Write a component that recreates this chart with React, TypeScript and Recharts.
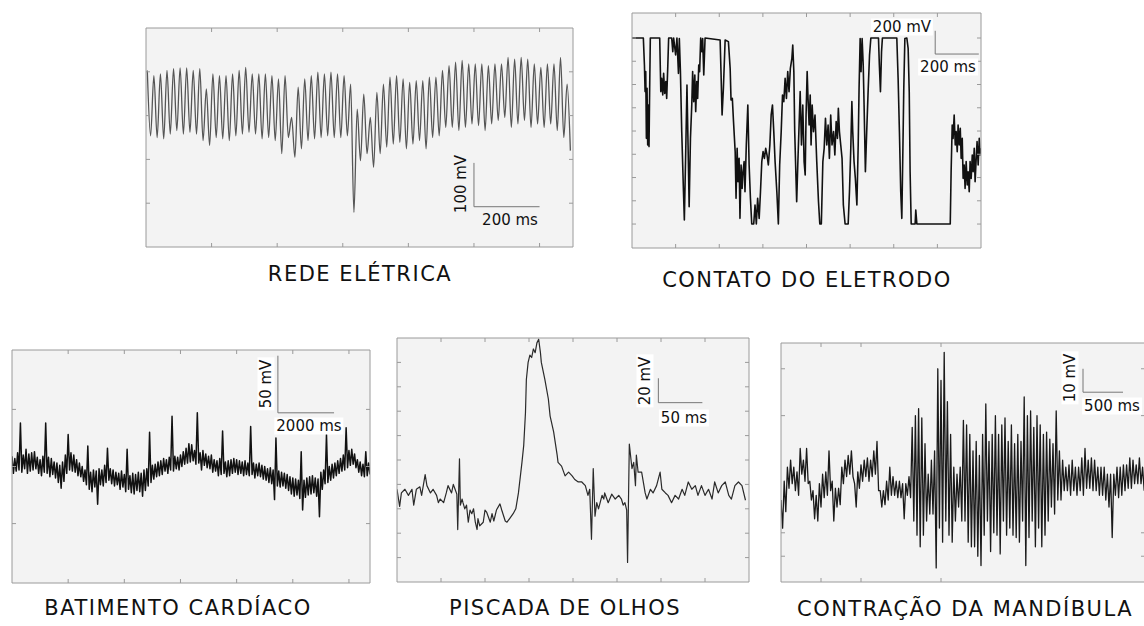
import React from "react";
import { LineChart, Line, XAxis, YAxis, ReferenceLine } from "recharts";

// ---------- REDE ELÉTRICA (mV, one peak + one trough per 20 ms cycle) ----------
const mainsPeaks = [
  103, 91, 95, 103, 107, 109, 109, 103, 107, 61,
  95, 91, 91, 95, 103, 110, 95, 95, 95, 91,
  84, 91, -4, 65, 84, 91, 99, 95, 99, 95,
  91, 72, 15, 49, -4, 53, 72, 88, 91, 84,
  76, 80, 80, 88, 88, 103, 114, 122, 126, 118,
  118, 118, 114, 118, 118, 133, 129, 133, 129, 118,
  110, 118, 118, 133, 72,
];
const mainsTroughs = [
  -46, -50, -53, -42, -34, -42, -38, -42, -57, -68,
  -50, -53, -57, -46, -42, -38, -42, -53, -50, -57,
  -87, -50, -95, -76, -57, -53, -50, -46, -50, -50,
  -46, -221, -103, -87, -118, -87, -72, -65, -61, -76,
  -65, -57, -76, -50, -46, -27, -27, -34, -27, -19,
  -23, -34, -19, -11, -4, -27, -19, -11, -27, -19,
  -27, -19, -34, -50, -80,
];
const MAINS_PERIOD = 20;

// ---------- CONTATO DO ELETRODO ([ms, mV]) ----------
const contactSamples: [number, number][] = [
  [0, 800], [52, 800], [57, 568], [60, 339], [63, 511], [66, -63], [69, 367], [72, -120], [75, 224], [78, -134], [81, 367], [84, 800],
  [127, 800], [132, 339], [136, 453], [141, 310], [145, 496], [150, 324], [155, 425], [159, 281], [164, 554], [168, 800],
  [182, 800], [187, 683], [191, 800], [200, 654], [206, 800], [213, 496], [217, 795], [222, 511], [228, -5], [236, -522], [240, -765],
  [246, -206], [252, 396], [257, -120], [262, -651], [268, -63], [274, 224], [278, 511], [283, 253], [288, 482], [292, 167], [297, 425],
  [301, 281], [306, 568], [310, 511], [315, 800], [320, 683], [324, 795], [329, 482], [335, 800],
  [404, 783], [408, 511], [413, 138], [419, 367], [427, 783], [442, 769], [450, 539], [454, 267], [460, 281], [465, 95], [473, -177],
  [477, -579], [482, -149], [486, -435], [491, -235], [495, -751], [500, -292], [505, -493], [509, -350], [514, -263], [518, -522],
  [524, -120], [531, 224], [537, -292], [543, -579], [549, -800], [558, -800], [564, -636], [570, -800], [576, -579], [583, -751],
  [589, -522], [595, -263], [601, -177], [607, -235], [613, -149], [619, -206], [625, -292], [632, -120], [638, 138], [644, 224],
  [650, -5], [656, -263], [664, -522], [671, -800], [677, -292], [684, -5], [690, 310], [696, 253], [702, 453], [708, 281], [714, 511],
  [720, 339], [726, 539], [733, 625], [737, 740], [742, 511], [746, -5], [751, -350], [755, -608], [760, -292], [766, 52],
  [771, 339], [777, -120], [783, 224], [789, -263], [794, -378], [798, 138], [803, 511], [807, 281], [812, 52], [817, 310], [821, -120],
  [826, 224], [832, -5], [839, 138], [847, -263], [855, -608], [861, -800], [868, -800], [875, -263], [881, -149], [887, 109], [893, -120],
  [899, 52], [905, -235], [911, 138], [917, -120], [924, -5], [930, -206], [936, 81], [942, -63], [946, 195], [951, -5], [957, -120],
  [963, -235], [969, -636], [977, -800], [991, -800], [997, -522], [1003, -149], [1008, 253], [1012, -5], [1018, -263], [1024, -407],
  [1031, -636], [1037, -120], [1041, 367], [1046, 795], [1050, 511], [1055, 795], [1060, 568], [1064, 224], [1070, -350], [1076, -5],
  [1083, 367], [1089, 654], [1095, 800], [1130, 800], [1134, 568], [1139, 339], [1144, 683], [1148, 800],
  [1214, 800], [1220, 453], [1226, -5], [1232, -522], [1237, -751], [1242, -149], [1246, 367], [1251, 795], [1260, 800], [1266, 711],
  [1271, 339], [1275, -350], [1280, -800], [1298, -800], [1301, -679], [1306, -800],
  [1459, -800], [1463, -350], [1468, 52], [1472, -63], [1477, 138], [1482, -120], [1486, -5], [1491, -177], [1495, 52], [1500, -120],
  [1505, 23], [1509, -235], [1514, -63], [1518, -407], [1523, -292], [1527, -493], [1532, -263], [1537, -464], [1541, -350],
  [1546, -522], [1550, -263], [1555, -407], [1560, -206], [1564, -350], [1569, -149], [1573, -435], [1578, -235], [1582, -91],
  [1587, -292], [1592, -63], [1596, -206], [1599, -149],
];

// ---------- BATIMENTO CARDÍACO (mV, upper / lower edge every 100 ms) ----------
const HEART_STEP = 100;
const heartHigh = [
  9, 7, 12, 38, 10, 15, 11, 12, 13, 8,
  6, 9, 38, 8, 7, 4, 3, 1, 4, 10,
  28, 12, 10, 6, 3, 0, -3, 18, -5, -3,
  -4, -2, -3, 1, 16, -2, -3, -5, -6, -4,
  -7, 15, -8, -6, -7, -5, -6, -3, -2, 30,
  1, 2, 4, 5, 7, 6, 8, 44, 9, 8,
  10, 13, 16, 20, 19, 14, 47, 12, 14, 11,
  9, 10, 6, 5, 7, 31, 4, 5, 6, 7,
  6, 5, 4, 5, 3, 35, 3, 2, 3, 1,
  0, -2, -1, -3, 25, -4, -5, -6, -7, -9,
  -10, -11, -12, 13, -12, -10, -9, -8, -10, -11,
  -5, -3, 28, 0, 2, 3, 5, 7, 10, 34,
  14, 15, 11, 6, 4, 2, 13, 3,
];
const heartLow = [
  -6, -4, -3, -5, -2, -6, -4, -3, -2, -6,
  -8, -5, -6, -9, -7, -10, -14, -19, -13, -6,
  -3, -4, -5, -8, -9, -13, -16, -20, -22, -18,
  -33, -16, -17, -14, -12, -15, -17, -16, -20, -18,
  -22, -20, -23, -24, -21, -22, -26, -21, -17, -14,
  -11, -9, -8, -7, -4, -6, -3, -4, -2, -3,
  0, 2, 3, 4, 5, 2, 3, -3, 1, -1,
  -2, -5, -4, -8, -7, -6, -9, -8, -6, -5,
  -7, -6, -8, -7, -8, -7, -10, -8, -9, -11,
  -12, -14, -15, -29, -17, -18, -17, -19, -21, -24,
  -26, -25, -28, -38, -27, -25, -24, -23, -26, -44,
  -20, -15, -14, -12, -10, -8, -6, -4, -3, -1,
  1, 2, -1, -5, -8, -9, -8, -7,
];

// ---------- PISCADA DE OLHOS ([ms, mV]) ----------
const blinkSamples: [number, number][] = [
  [0, -24], [3, -38], [5, -27], [9, -24], [13, -29], [17, -24], [19, -37], [22, -24], [26, -22], [28, -29], [32, -12], [34, -21],
  [38, -27], [41, -24], [45, -29], [47, -35], [49, -32], [53, -35], [56, -27], [58, -21], [62, -27], [64, -20], [66, -24], [68, -28],
  [69, -57], [71, 1], [72, -37], [74, -32], [75, -35], [77, -40], [79, -37], [81, -51], [83, -41], [85, -44], [87, -40], [89, -51],
  [91, -57], [92, -48], [94, -54], [98, -51], [100, -41], [102, -43], [106, -51], [108, -44], [110, -50], [113, -41], [117, -36],
  [119, -41], [123, -50], [125, -51], [128, -48], [132, -44], [135, -40], [138, -27], [142, -2], [144, 12], [146, 39], [147, 66],
  [149, 80], [151, 86], [153, 84], [155, 91], [157, 88], [159, 96], [161, 99], [163, 88], [164, 80], [168, 66], [172, 50], [174, 36],
  [178, 23], [182, 4], [183, -2], [187, -5], [191, -13], [195, -10], [199, -13], [202, -16], [206, -18], [210, -18], [214, -21],
  [217, -29], [219, -24], [221, -65], [223, -7], [225, -46], [227, -35], [229, -40], [233, -29], [235, -32], [236, -27], [240, -35],
  [244, -28], [248, -32], [252, -29], [255, -32], [257, -37], [259, -35], [261, -41], [262, -84], [264, 13], [267, -7], [269, -2],
  [271, -21], [272, 4], [274, -10], [278, -10], [282, -27], [284, -32], [288, -24], [291, -27], [295, -21], [299, -10], [301, -24],
  [305, -27], [308, -29], [312, -35], [316, -29], [320, -32], [324, -24], [327, -29], [331, -18], [335, -24], [339, -21], [342, -29],
  [346, -21], [350, -29], [354, -24], [358, -32], [361, -18], [365, -27], [369, -21], [373, -18], [377, -29], [380, -32], [384, -21],
  [388, -18], [392, -21], [396, -33],
];

// ---------- CONTRAÇÃO DA MANDÍBULA (mV, upper / lower edge every 40 ms) ----------
const JAW_STEP = 40;
const jawHigh = [
  -16, -8, -2, 1, -2, -4, 6, 1, 6, -8,
  -12, -14, -9, -5, -4, 5, -8, -11, -11, -2,
  1, 3, 5, -9, -4, -1, 1, 2, 1, 5,
  9, -12, -12, -8, -2, -6, -8, -8, -9, -9,
  -6, 15, 20, 23, 19, 8, -5, 1, 5, 40,
  35, 47, 26, 12, -2, -5, -2, 18, 16, 12,
  5, 9, 3, 12, 25, 9, 12, 20, 12, 16,
  19, 9, 16, 8, 12, 9, 28, 20, 22, 15,
  20, 16, 12, 13, 10, 8, 22, 5, 1, -2,
  -1, 1, -2, -2, 2, 6, 1, 2, 1, -2,
  -2, -2, -5, -5, -5, -2, -2, -1, -1, 2,
  1, -1, 2, -2,
];
const jawLow = [
  -28, -21, -11, -9, -12, -14, -5, -8, -9, -16,
  -24, -25, -19, -15, -14, -12, -25, -19, -18, -9,
  -6, -5, -6, -19, -11, -8, -6, -8, -6, -5,
  -12, -19, -18, -16, -14, -14, -15, -15, -24, -14,
  -15, -25, -31, -36, -31, -25, -22, -22, -45, -28,
  -34, -25, -31, -34, -25, -19, -25, -25, -34, -36,
  -36, -40, -44, -31, -25, -38, -30, -31, -39, -25,
  -31, -28, -31, -32, -34, -25, -44, -32, -25, -36,
  -28, -36, -31, -25, -19, -22, -16, -16, -12, -12,
  -14, -12, -14, -12, -14, -11, -11, -12, -12, -14,
  -14, -16, -19, -32, -14, -15, -14, -12, -11, -11,
  -9, -9, -9, -12,
];

type Pt = { t: number; v: number };

const mainsData: Pt[] = mainsPeaks.flatMap((p, i) => [
  { t: i * MAINS_PERIOD + 4, v: p },
  { t: i * MAINS_PERIOD + 14, v: mainsTroughs[i] },
]);
const contactData: Pt[] = contactSamples.map(([t, v]) => ({ t, v }));
const heartData: Pt[] = heartHigh.flatMap((hi, k) => [
  { t: k * HEART_STEP, v: hi },
  { t: k * HEART_STEP + HEART_STEP / 2, v: heartLow[k] },
]);
const blinkData: Pt[] = blinkSamples.map(([t, v]) => ({ t, v }));
const jawData: Pt[] = jawHigh.flatMap((hi, k) => [
  { t: k * JAW_STEP, v: hi },
  { t: k * JAW_STEP + JAW_STEP / 2, v: jawLow[k] },
]);

const AXIS = "#9a9a9a";
const PANEL_BG = "#f3f3f3";
const FONT = "'DejaVu Sans', Verdana, sans-serif";

type PanelProps = {
  left: number;
  top: number;
  w: number;
  h: number;
  data: Pt[];
  xDomain: [number, number];
  yDomain: [number, number];
  xTicks: number[];
  yTicks: number[];
  stroke: string;
  strokeWidth: number;
  curve: "linear" | "monotone";
  bar: { x: number; y: number; dx: number; dy: number };
};

const noLabel = () => "";

function Panel(p: PanelProps) {
  const axis = {
    type: "number" as const,
    mirror: true,
    allowDataOverflow: true,
    tick: { fontSize: 1, fill: "none" },
    tickFormatter: noLabel,
    tickSize: 4,
    interval: 0 as const,
    axisLine: { stroke: AXIS },
    tickLine: { stroke: AXIS },
  };
  return (
    <div style={{ position: "absolute", left: p.left - 1, top: p.top - 1 }}>
      <div
        style={{ position: "absolute", left: 1, top: 1, width: p.w, height: p.h, background: PANEL_BG }}
      />
      <LineChart
        width={p.w + 2}
        height={p.h + 2}
        data={p.data}
        margin={{ top: 1, right: 1, bottom: 1, left: 1 }}
      >
        <XAxis xAxisId="b" orientation="bottom" dataKey="t" domain={p.xDomain} ticks={p.xTicks} {...axis} />
        <XAxis xAxisId="t" orientation="top" dataKey="t" domain={p.xDomain} ticks={p.xTicks} {...axis} />
        <YAxis yAxisId="l" orientation="left" dataKey="v" domain={p.yDomain} ticks={p.yTicks} {...axis} />
        <YAxis yAxisId="r" orientation="right" dataKey="v" domain={p.yDomain} ticks={p.yTicks} {...axis} />
        <Line
          xAxisId="b"
          yAxisId="l"
          dataKey="v"
          type={p.curve}
          stroke={p.stroke}
          strokeWidth={p.strokeWidth}
          strokeLinejoin="round"
          dot={false}
          isAnimationActive={false}
        />
        <ReferenceLine
          xAxisId="b"
          yAxisId="l"
          segment={[{ x: p.bar.x, y: p.bar.y }, { x: p.bar.x, y: p.bar.y + p.bar.dy }]}
          stroke="#777"
          strokeWidth={1}
        />
        <ReferenceLine
          xAxisId="b"
          yAxisId="l"
          segment={[{ x: p.bar.x, y: p.bar.y }, { x: p.bar.x + p.bar.dx, y: p.bar.y }]}
          stroke="#777"
          strokeWidth={1}
        />
      </LineChart>
    </div>
  );
}

function Text(props: { x: number; y: number; text: string; size: number; rotate?: boolean; bg?: boolean; spacing?: number }) {
  return (
    <div
      style={{
        position: "absolute",
        left: props.x,
        top: props.y,
        transform: `translate(-50%, -50%)${props.rotate ? " rotate(-90deg)" : ""}`,
        fontFamily: FONT,
        fontSize: props.size,
        lineHeight: 1,
        letterSpacing: props.spacing ?? 0,
        whiteSpace: "nowrap",
        color: "#111",
        background: props.bg ? "#fff" : "transparent",
        padding: props.bg ? "1px 2px" : 0,
      }}
    >
      {props.text}
    </div>
  );
}

export default function App() {
  return (
    <div
      style={{ position: "absolute", left: 0, top: 0, width: 1144, height: 626, background: "#fff", overflow: "hidden" }}
    >
      <Panel
        left={146} top={28} w={427} h={219}
        data={mainsData}
        xDomain={[0, 1302]} yDomain={[-300, 200]}
        xTicks={[200, 400, 600, 800, 1000, 1200]} yTicks={[-200, -100, 0, 100]}
        stroke="#555" strokeWidth={1.3} curve="monotone"
        bar={{ x: 1000, y: -208, dx: 200, dy: 100 }}
      />
      <Panel
        left={632} top={13} w={349} h={235}
        data={contactData}
        xDomain={[0, 1600]} yDomain={[-1006, 1015]}
        xTicks={[200, 400, 600, 800, 1000, 1200, 1400]}
        yTicks={[-800, -600, -400, -200, 0, 200, 400, 600, 800]}
        stroke="#111" strokeWidth={1.6} curve="linear"
        bar={{ x: 1390, y: 662, dx: 200, dy: 200 }}
      />
      <Panel
        left={12} top={350} w={358} h={233}
        data={heartData}
        xDomain={[0, 12750]} yDomain={[-102, 102]}
        xTicks={[2000, 4000, 6000, 8000, 10000, 12000]} yTicks={[-50, 0, 50]}
        stroke="#111" strokeWidth={1.5} curve="linear"
        bar={{ x: 9470, y: 47, dx: 2000, dy: 50 }}
      />
      <Panel
        left={397} top={338} w={352} h={244}
        data={blinkData}
        xDomain={[0, 400]} yDomain={[-100, 100]}
        xTicks={[50, 100, 150, 200, 250, 300, 350]}
        yTicks={[-80, -60, -40, -20, 0, 20, 40, 60, 80]}
        stroke="#2a2a2a" strokeWidth={1.2} curve="linear"
        bar={{ x: 297, y: 47, dx: 50, dy: 20 }}
      />
      <Panel
        left={781} top={343} w={364} h={239}
        data={jawData}
        xDomain={[0, 4550]} yDomain={[-51, 51]}
        xTicks={[500, 1000, 2000]} yTicks={[-40, -30, 20, 40]}
        stroke="#1a1a1a" strokeWidth={1.3} curve="linear"
        bar={{ x: 3775, y: 30, dx: 500, dy: 10 }}
      />

      {/* scale bar labels */}
      <Text x={461} y={184} text="100 mV" size={15} rotate />
      <Text x={510} y={220} text="200 ms" size={15} />
      <Text x={902} y={27} text="200 mV" size={15} bg />
      <Text x={948} y={67} text="200 ms" size={15} bg />
      <Text x={266} y={384} text="50 mV" size={15} rotate bg />
      <Text x={309} y={426} text="2000 ms" size={15} bg />
      <Text x={645} y={381} text="20 mV" size={15} rotate bg />
      <Text x={684} y={418} text="50 ms" size={15} bg />
      <Text x={1070} y={378} text="10 mV" size={15} rotate bg />
      <Text x={1112} y={406} text="500 ms" size={15} bg />

      {/* panel titles */}
      <Text x={360} y={274} text="REDE ELÉTRICA" size={21} spacing={1.5} />
      <Text x={807} y={280} text="CONTATO DO ELETRODO" size={21} spacing={1.5} />
      <Text x={178} y={608} text="BATIMENTO CARDÍACO" size={21} spacing={1.5} />
      <Text x={565} y={608} text="PISCADA DE OLHOS" size={21} spacing={1.5} />
      <Text x={965} y={609} text="CONTRAÇÃO DA MANDÍBULA" size={21} spacing={1.5} />
    </div>
  );
}
